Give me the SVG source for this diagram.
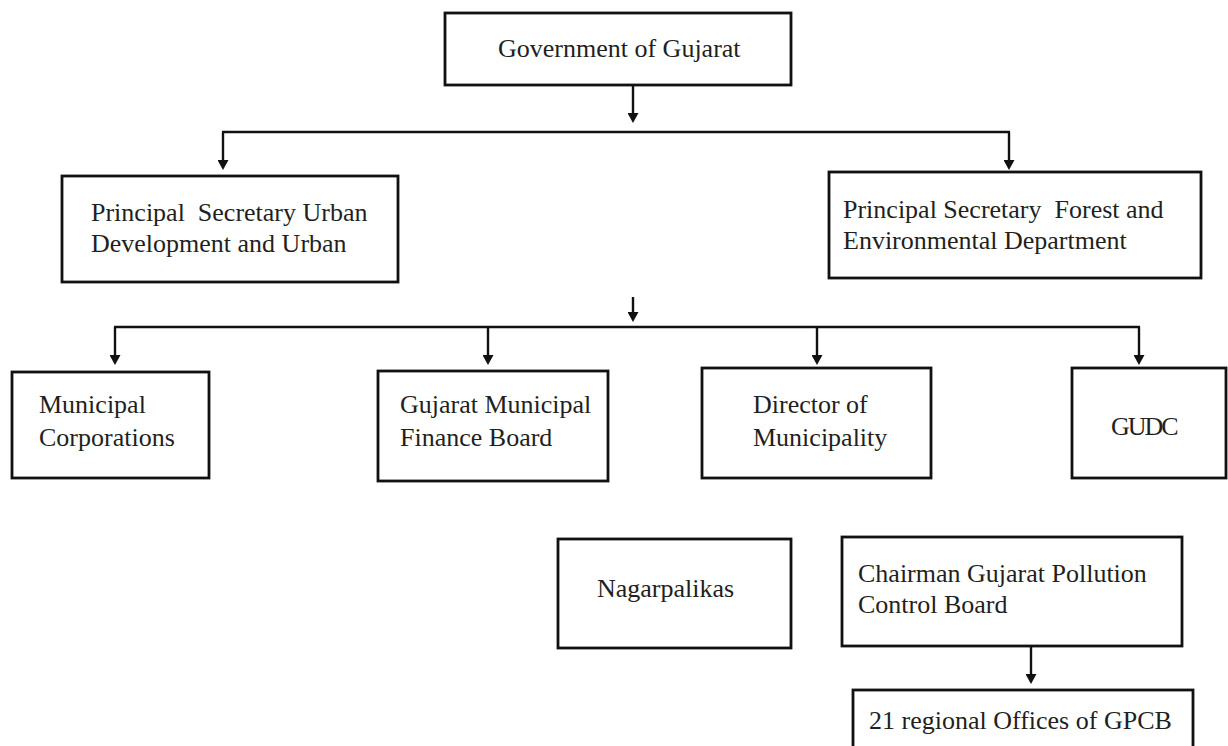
<svg xmlns="http://www.w3.org/2000/svg" width="1228" height="746" viewBox="0 0 1228 746">
<style>
.box{fill:#fff;stroke:#111;stroke-width:2.8}
.lbl{font-family:"Liberation Serif","Times New Roman",serif;font-size:26px;fill:#231f20;white-space:pre}
.con{stroke:#111;stroke-width:2.4;fill:none}
</style>
<defs>
<marker id="arr" viewBox="0 0 10 11" markerWidth="10" markerHeight="11" refX="2" refY="5.5" orient="auto" markerUnits="userSpaceOnUse">
<path d="M0,0 L10,5.5 L0,11 z" fill="#111"/>
</marker>
</defs>
<rect width="1228" height="746" fill="#fff"/>
<g id="connectors">
<line class="con" x1="633" y1="86" x2="633" y2="115" marker-end="url(#arr)"/>
<line class="con" x1="222" y1="132" x2="1010" y2="132"/>
<line class="con" x1="223" y1="132" x2="223" y2="162" marker-end="url(#arr)"/>
<line class="con" x1="1009" y1="132" x2="1009" y2="162" marker-end="url(#arr)"/>
<line class="con" x1="633" y1="297" x2="633" y2="314" marker-end="url(#arr)"/>
<line class="con" x1="114" y1="327" x2="1140" y2="327"/>
<line class="con" x1="115" y1="327" x2="115" y2="357" marker-end="url(#arr)"/>
<line class="con" x1="488" y1="327" x2="488" y2="357" marker-end="url(#arr)"/>
<line class="con" x1="817" y1="327" x2="817" y2="357" marker-end="url(#arr)"/>
<line class="con" x1="1139" y1="327" x2="1139" y2="357" marker-end="url(#arr)"/>
<line class="con" x1="1031" y1="647" x2="1031" y2="676" marker-end="url(#arr)"/>
</g>
<g id="gov">
<rect class="box" x="445" y="13" width="346" height="72"/>
<text class="lbl" x="498" y="57">Government of Gujarat</text>
</g>
<g id="psud">
<rect class="box" x="62" y="176" width="336" height="106"/>
<text class="lbl" x="91" y="221">Principal  Secretary Urban</text>
<text class="lbl" x="91" y="252">Development and Urban</text>
</g>
<g id="psfe">
<rect class="box" x="829" y="172" width="372" height="106"/>
<text class="lbl" x="843" y="218">Principal Secretary  Forest and</text>
<text class="lbl" x="843" y="249">Environmental Department</text>
</g>
<g id="mc">
<rect class="box" x="12" y="372" width="197" height="106"/>
<text class="lbl" x="39" y="413">Municipal</text>
<text class="lbl" x="39" y="446">Corporations</text>
</g>
<g id="gmfb">
<rect class="box" x="378" y="371" width="230" height="110"/>
<text class="lbl" x="400" y="413">Gujarat Municipal</text>
<text class="lbl" x="400" y="446">Finance Board</text>
</g>
<g id="dom">
<rect class="box" x="702" y="368" width="229" height="110"/>
<text class="lbl" x="753" y="413">Director of</text>
<text class="lbl" x="753" y="446">Municipality</text>
</g>
<g id="gudc">
<rect class="box" x="1072" y="368" width="154" height="110"/>
<text class="lbl" x="1111" y="435" letter-spacing="-2">GUDC</text>
</g>
<g id="nag">
<rect class="box" x="558" y="539" width="233" height="109"/>
<text class="lbl" x="597" y="597">Nagarpalikas</text>
</g>
<g id="gpcb">
<rect class="box" x="842" y="537" width="340" height="109"/>
<text class="lbl" x="858" y="582">Chairman Gujarat Pollution</text>
<text class="lbl" x="858" y="613">Control Board</text>
</g>
<g id="ro">
<rect class="box" x="853" y="690" width="340" height="80"/>
<text class="lbl" x="869" y="729">21 regional Offices of GPCB</text>
</g>
</svg>
